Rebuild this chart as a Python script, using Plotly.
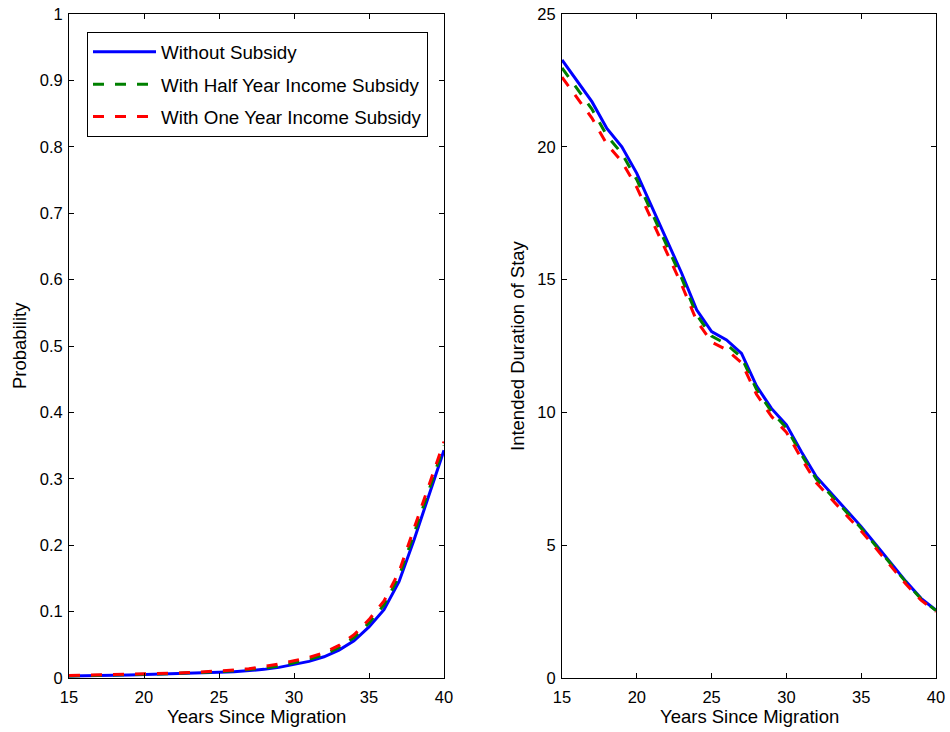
import plotly.graph_objects as go

# Years since migration (x for both panels)
years = list(range(15, 41))

# Left panel: probability of return
prob_no_subsidy = [0.003, 0.003, 0.0035, 0.004, 0.0045, 0.005, 0.0055, 0.006, 0.007, 0.0075,
                   0.0085, 0.0095, 0.011, 0.013, 0.016, 0.020, 0.025, 0.032, 0.042, 0.056,
                   0.077, 0.103, 0.145, 0.208, 0.275, 0.343]
prob_half_year = [0.0032, 0.0035, 0.004, 0.0045, 0.005, 0.0055, 0.006, 0.0068, 0.0075, 0.0085,
                  0.0095, 0.011, 0.0125, 0.015, 0.018, 0.023, 0.028, 0.035, 0.046, 0.061,
                  0.083, 0.110, 0.153, 0.217, 0.283, 0.350]
prob_one_year = [0.0036, 0.004, 0.0044, 0.0049, 0.0054, 0.006, 0.0065, 0.0073, 0.0082, 0.0093,
                 0.0105, 0.012, 0.014, 0.017, 0.021, 0.026, 0.031, 0.038, 0.049, 0.065,
                 0.088, 0.116, 0.160, 0.225, 0.290, 0.356]

# Right panel: intended duration of stay
stay_no_subsidy = [23.27, 22.5, 21.70, 20.69, 20.0, 19.0, 17.75, 16.55, 15.24, 13.86,
                   13.04, 12.73, 12.22, 11.0, 10.15, 9.53, 8.52, 7.58, 6.95, 6.33,
                   5.70, 5.01, 4.32, 3.63, 3.0, 2.55]
stay_half_year = [22.97, 22.2, 21.42, 20.42, 19.75, 18.76, 17.53, 16.34, 15.05, 13.68,
                  12.87, 12.57, 12.07, 10.87, 10.03, 9.42, 8.42, 7.49, 6.87, 6.26,
                  5.64, 4.96, 4.28, 3.6, 2.98, 2.54]
stay_one_year = [22.62, 21.86, 21.08, 20.1, 19.44, 18.47, 17.25, 16.08, 14.8, 13.45,
                 12.65, 12.36, 11.87, 10.68, 9.85, 9.25, 8.27, 7.35, 6.74, 6.14,
                 5.53, 4.87, 4.2, 3.53, 2.93, 2.5]

series_names = ["Without Subsidy", "With Half Year Income Subsidy", "With One Year Income Subsidy"]
colors = ["#0000ff", "#008000", "#ff0000"]
dashes = ["solid", "11px,11px", "11px,11px"]

FONT = "Liberation Sans, Arial, sans-serif"
W, H = 950, 732

fig = go.Figure()

left = [prob_no_subsidy, prob_half_year, prob_one_year]
right = [stay_no_subsidy, stay_half_year, stay_one_year]

for i in range(3):
    fig.add_trace(go.Scatter(
        x=years, y=left[i], mode="lines", name=series_names[i],
        line=dict(color=colors[i], width=3, dash=dashes[i]),
        xaxis="x", yaxis="y", legendgroup=f"g{i}", showlegend=True))
for i in range(3):
    fig.add_trace(go.Scatter(
        x=years, y=right[i], mode="lines", name=series_names[i],
        line=dict(color=colors[i], width=3, dash=dashes[i]),
        xaxis="x2", yaxis="y2", legendgroup=f"g{i}", showlegend=False))

# plot areas in pixels
L1, R1 = 69, 444
L2, R2 = 562, 936
TOP, BOT = 14, 678
ydom = [1 - BOT / H, 1 - TOP / H]

axis_common = dict(
    showline=True, linecolor="black", linewidth=1, mirror="ticks",
    ticks="inside", ticklen=5, tickcolor="black", tickwidth=1,
    showgrid=False, zeroline=False, automargin=False,
    tickfont=dict(family=FONT, size=16.5, color="black"),
)

fig.update_layout(
    width=W, height=H,
    margin=dict(l=0, r=0, t=0, b=0, autoexpand=False),
    paper_bgcolor="white", plot_bgcolor="white",
    font=dict(family=FONT, color="black"),
    xaxis=dict(domain=[L1 / W, R1 / W], range=[15, 40], tickvals=[15, 20, 25, 30, 35, 40],
               anchor="y", ticklabelstandoff=4, **axis_common),
    yaxis=dict(domain=ydom, range=[0, 1], tickvals=[i / 10 for i in range(11)],
               ticktext=["0", "0.1", "0.2", "0.3", "0.4", "0.5", "0.6", "0.7", "0.8", "0.9", "1"],
               anchor="x", ticklabelstandoff=2, **axis_common),
    xaxis2=dict(domain=[L2 / W, R2 / W], range=[15, 40], tickvals=[15, 20, 25, 30, 35, 40],
                anchor="y2", ticklabelstandoff=4, **axis_common),
    yaxis2=dict(domain=ydom, range=[0, 25], tickvals=[0, 5, 10, 15, 20, 25],
                anchor="x2", ticklabelstandoff=2, **axis_common),
    legend=dict(
        x=87 / W, y=1 - 32 / H, xanchor="left", yanchor="top",
        bgcolor="white", bordercolor="black", borderwidth=1,
        font=dict(family=FONT, size=18.8, color="black"),
        traceorder="grouped", tracegroupgap=5, itemwidth=63,
    ),
    showlegend=True,
)

# axis titles
title_font = dict(family=FONT, size=18.5, color="black")
fig.add_annotation(text="Years Since Migration", x=(L1 + R1) / 2 / W, y=1 - 716 / H,
                   xref="paper", yref="paper", showarrow=False, font=title_font,
                   xanchor="center", yanchor="middle")
fig.add_annotation(text="Years Since Migration", x=(L2 + R2) / 2 / W, y=1 - 716 / H,
                   xref="paper", yref="paper", showarrow=False, font=title_font,
                   xanchor="center", yanchor="middle")
fig.add_annotation(text="Probability", x=19 / W, y=1 - 346 / H, textangle=-90,
                   xref="paper", yref="paper", showarrow=False, font=title_font,
                   xanchor="center", yanchor="middle")
fig.add_annotation(text="Intended Duration of Stay", x=517 / W, y=1 - 346 / H, textangle=-90,
                   xref="paper", yref="paper", showarrow=False, font=title_font,
                   xanchor="center", yanchor="middle")

fig.write_html("out.html")
